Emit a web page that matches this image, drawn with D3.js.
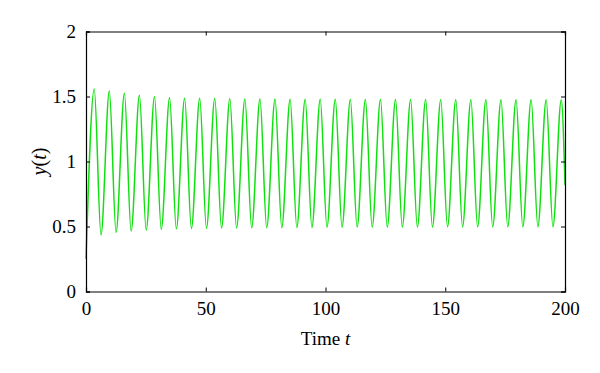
<!DOCTYPE html>
<html>
<head>
<meta charset="utf-8">
<script src="https://cdn.jsdelivr.net/npm/d3@7"></script>
<style>
  body { margin: 0; background: #fff; }
  svg text { font-family: "Liberation Serif", "DejaVu Serif", serif; }
</style>
</head>
<body>
<svg id="chart" width="600" height="373"></svg>
<script>
// extrema of y(t)
var startPoint = [0, 0.25];
var endPoint = [200, 0.82];

var peakTimes = [3.45, 9.74, 16.03, 22.32, 28.61, 34.90, 41.19, 47.48, 53.77, 60.06,
  66.35, 72.64, 78.93, 85.22, 91.51, 97.80, 104.09, 110.38, 116.67, 122.96,
  129.25, 135.54, 141.83, 148.12, 154.41, 160.70, 166.99, 173.28, 179.57, 185.86,
  192.15, 198.44];
var peakValues = [1.558, 1.542, 1.525, 1.509, 1.498, 1.491, 1.487, 1.486, 1.484, 1.482,
  1.481, 1.480, 1.480, 1.479, 1.479, 1.478, 1.478, 1.477, 1.477, 1.477,
  1.476, 1.476, 1.476, 1.475, 1.475, 1.475, 1.475, 1.475, 1.475, 1.475,
  1.475, 1.475];

var troughTimes = [6.26, 12.55, 18.84, 25.13, 31.42, 37.71, 44.00, 50.29, 56.58, 62.87,
  69.16, 75.45, 81.74, 88.03, 94.32, 100.61, 106.90, 113.19, 119.48, 125.77,
  132.06, 138.35, 144.64, 150.93, 157.22, 163.51, 169.80, 176.09, 182.38, 188.67,
  194.96];
var troughValues = [0.435, 0.455, 0.465, 0.473, 0.478, 0.482, 0.485, 0.487, 0.488, 0.489,
  0.490, 0.491, 0.492, 0.493, 0.493, 0.494, 0.494, 0.495, 0.495, 0.495,
  0.496, 0.496, 0.496, 0.497, 0.497, 0.497, 0.497, 0.498, 0.498, 0.498,
  0.498];

var xTicks = [0, 50, 100, 150, 200];
var yTicks = [0, 0.5, 1, 1.5, 2];

var width = 600, height = 373;
var margin = {top: 31.5, right: 35, bottom: 81.5, left: 86};

var svg = d3.select("#chart");
var x = d3.scaleLinear().domain([0, 200]).range([margin.left, width - margin.right]);
var y = d3.scaleLinear().domain([0, 2]).range([height - margin.bottom, margin.top]);

// merge extrema into one time-ordered series
var points = [startPoint];
peakTimes.forEach(function(t, i) { points.push([t, peakValues[i]]); });
troughTimes.forEach(function(t, i) { points.push([t, troughValues[i]]); });
points.push(endPoint);
points.sort(function(a, b) { return a[0] - b[0]; });

var line = d3.line()
  .x(function(d) { return x(d[0]); })
  .y(function(d) { return y(d[1]); })
  .curve(d3.curveMonotoneX);

svg.append("path")
  .datum(points)
  .attr("d", line)
  .attr("fill", "none")
  .attr("stroke", "#10e010")
  .attr("stroke-width", 1.5);

// axes, ticks pointing inward, box all round
var tickLen = 4;
var fontSize = 19;

var xBottom = svg.append("g")
  .attr("transform", "translate(0," + y(0) + ")")
  .call(d3.axisBottom(x).tickValues(xTicks).tickSize(-tickLen).tickPadding(10).tickFormat(d3.format("d")));
var xTop = svg.append("g")
  .attr("transform", "translate(0," + y(2) + ")")
  .call(d3.axisTop(x).tickValues(xTicks).tickSize(-tickLen).tickFormat(""));
var yLeft = svg.append("g")
  .attr("transform", "translate(" + x(0) + ",0)")
  .call(d3.axisLeft(y).tickValues(yTicks).tickSize(-tickLen).tickPadding(10).tickFormat(function(d) { return d; }));
var yRight = svg.append("g")
  .attr("transform", "translate(" + x(200) + ",0)")
  .call(d3.axisRight(y).tickValues(yTicks).tickSize(-tickLen).tickFormat(""));

[xBottom, xTop, yLeft, yRight].forEach(function(g) {
  g.select(".domain").attr("stroke", "#000").attr("stroke-width", 1.2);
  g.selectAll(".tick line").attr("stroke", "#000").attr("stroke-width", 1);
  g.selectAll(".tick text")
    .attr("fill", "#000")
    .style("font-family", "'Liberation Serif', serif")
    .style("font-size", fontSize + "px");
});

// axis titles
var xTitle = svg.append("text")
  .attr("x", x(100))
  .attr("y", 345)
  .attr("text-anchor", "middle")
  .style("font-size", fontSize + "px");
xTitle.append("tspan").text("Time ");
xTitle.append("tspan").style("font-style", "italic").text("t");

var yTitle = svg.append("text")
  .attr("transform", "translate(46," + y(1.0) + ") rotate(-90)")
  .attr("text-anchor", "middle")
  .style("font-size", (fontSize + 1) + "px");
yTitle.append("tspan").style("font-style", "italic").text("y");
yTitle.append("tspan").text("(");
yTitle.append("tspan").style("font-style", "italic").text("t");
yTitle.append("tspan").text(")");
</script>
</body>
</html>
